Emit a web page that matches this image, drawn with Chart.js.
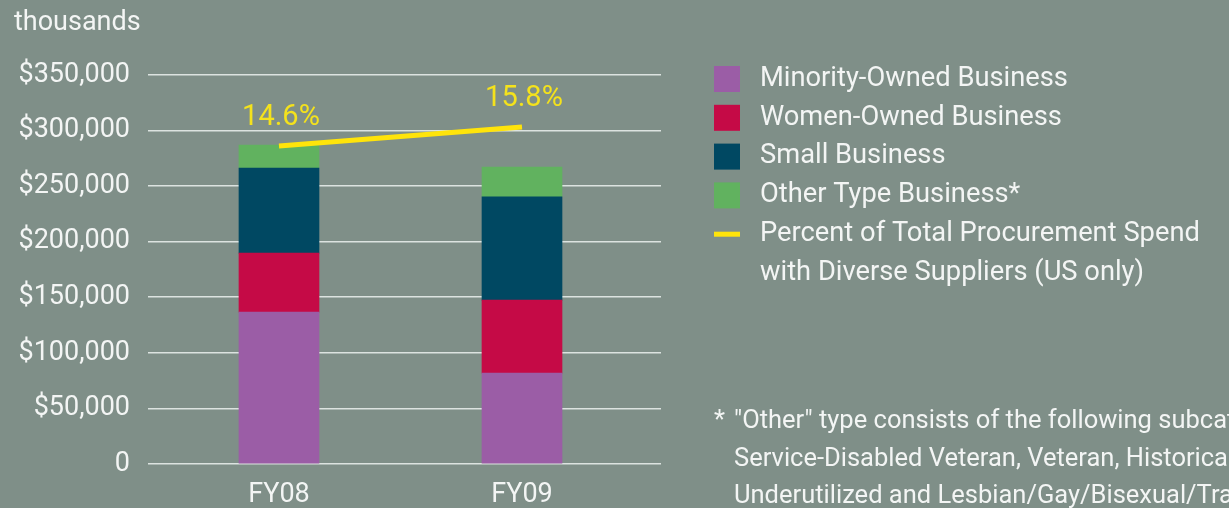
<!DOCTYPE html>
<html>
<head>
<meta charset="utf-8">
<script src="https://cdn.jsdelivr.net/npm/chart.js@4/dist/chart.umd.min.js"></script>
<style>
html, body { margin: 0; padding: 0; background: #7f8f88; }
#wrap { width: 1229px; height: 508px; position: relative; }
</style>
</head>
<body>
<div id="wrap"><canvas id="chart-procurement"></canvas></div>
<script>
// values in thousands of dollars
var years = ["FY08", "FY09"];
var minorityOwned = [136700, 81800];
var womenOwned = [53000, 65700];
var smallBusiness = [76500, 92900];
var otherType = [20700, 26700];
var diversePercent = [14.6, 15.8];
var yTickLabels = ["0", "$50,000", "$100,000", "$150,000", "$200,000", "$250,000", "$300,000", "$350,000"];
var footnoteLines = [
  "\"Other\" type consists of the following subcategories:",
  "Service-Disabled Veteran, Veteran, Historically",
  "Underutilized and Lesbian/Gay/Bisexual/Transgender"
];

var FONT = "Roboto";
var TEXT = "#f3f5f4";

function points(values) {
  return values.map(function (v, i) { return { x: i, y: v }; });
}

var extras = {
  id: "extras",
  afterDraw: function (chart) {
    var c = chart.ctx;
    c.save();
    c.fillStyle = TEXT;
    c.textBaseline = "middle";
    c.textAlign = "left";
    c.font = "27px " + FONT;
    c.fillText("thousands", 14, 23);

    // percent labels over the line
    var meta = chart.getDatasetMeta(4);
    c.fillStyle = "#f4e21c";
    c.textAlign = "center";
    c.font = "29px " + FONT;
    meta.data.forEach(function (pt, i) {
      c.fillText(diversePercent[i] + "%", pt.x + 2, pt.y - 28);
    });

    // legend
    var lx = 714, ty = 79, gap = 38.8;
    c.font = "27.3px " + FONT;
    c.textAlign = "left";
    chart.data.datasets.forEach(function (ds, i) {
      var y = ty + i * gap;
      if (ds.type === "line") {
        c.fillStyle = ds.borderColor;
        c.fillRect(lx, y - 2.5, 26, 5);
      } else {
        c.fillStyle = ds.backgroundColor;
        c.fillRect(lx, y - 13, 26, 26);
      }
      c.fillStyle = TEXT;
      var lines = [].concat(ds.label);
      lines.forEach(function (t, j) {
        c.fillText(t, 760, y + j * gap);
      });
    });

    // footnote
    c.font = "25.5px " + FONT;
    c.fillText("*", 714, 422);
    footnoteLines.forEach(function (t, j) {
      c.fillText(t, 734, 422 + j * 37.5);
    });
    c.restore();
  }
};

new Chart(document.getElementById("chart-procurement"), {
  type: "bar",
  data: {
    datasets: [{
      label: "Minority-Owned Business",
      data: points(minorityOwned),
      backgroundColor: "#9b5da6",
      barThickness: 80
    }, {
      label: "Women-Owned Business",
      data: points(womenOwned),
      backgroundColor: "#c50a46",
      barThickness: 80
    }, {
      label: "Small Business",
      data: points(smallBusiness),
      backgroundColor: "#004862",
      barThickness: 80
    }, {
      label: "Other Type Business*",
      data: points(otherType),
      backgroundColor: "#61b25f",
      barThickness: 80
    }, {
      type: "line",
      label: ["Percent of Total Procurement Spend", "with Diverse Suppliers (US only)"],
      data: points(diversePercent),
      yAxisID: "y2",
      borderColor: "#ffe40a",
      borderWidth: 5,
      pointRadius: 0,
      order: -1
    }]
  },
  options: {
    responsive: true,
    maintainAspectRatio: false,
    animation: false,
    layout: {
      padding: { top: 75, right: 568, bottom: 0, left: 0 }
    },
    plugins: {
      legend: { display: false },
      tooltip: { enabled: false }
    },
    scales: {
      x: {
        type: "linear",
        stacked: true,
        offset: false,
        min: -0.539,
        max: 1.572,
        grid: { display: false, drawTicks: false },
        border: { display: false },
        afterBuildTicks: function (scale) {
          scale.ticks = years.map(function (_, i) { return { value: i }; });
        },
        afterFit: function (scale) { scale.height = 44; },
        ticks: {
          autoSkip: false,
          maxRotation: 0,
          padding: 15,
          color: TEXT,
          font: { family: FONT, size: 27 },
          callback: function (v) { return years[v]; }
        }
      },
      y: {
        stacked: true,
        min: 0,
        max: 350000,
        grid: { color: "rgba(226,232,229,0.95)", lineWidth: 1.6, drawTicks: false },
        border: { display: false },
        afterFit: function (scale) { scale.width = 148; },
        ticks: {
          stepSize: 50000,
          padding: 18,
          color: TEXT,
          font: { family: FONT, size: 27 },
          callback: function (v) { return yTickLabels[v / 50000]; }
        }
      },
      y2: {
        display: false,
        min: -5.49,
        max: 19.08
      }
    }
  },
  plugins: [extras]
});
</script>
</body>
</html>
